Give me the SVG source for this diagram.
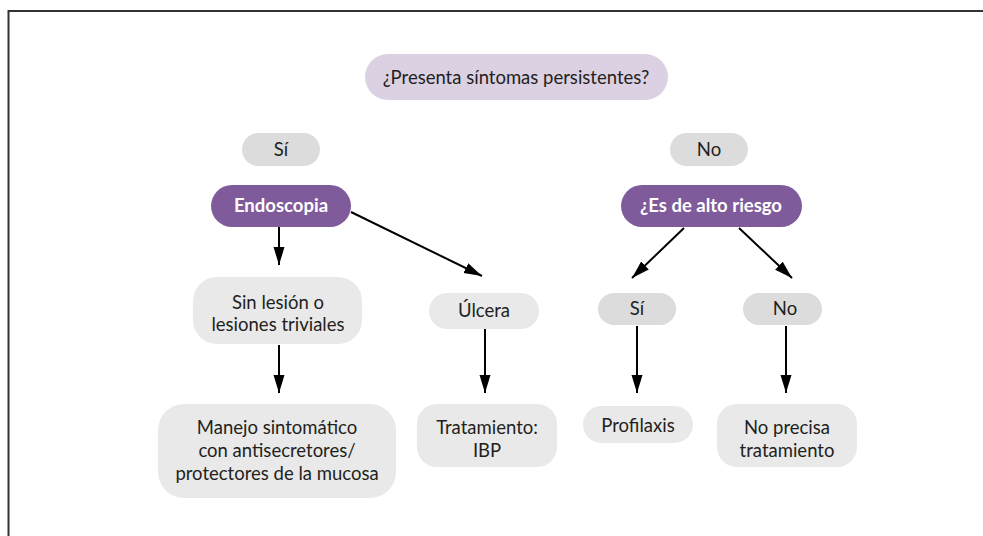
<svg xmlns="http://www.w3.org/2000/svg" width="983" height="536" viewBox="0 0 983 536">
<style>
text{font-family:Lato,"Open Sans","Liberation Sans",sans-serif;font-size:18.5px;fill:#231f20;text-anchor:middle}
.q{fill:#dcd0e3}
.g{fill:#e9e9e9}
.y{fill:#dcdcdc}
.p{fill:#7f5b9b}
.w{fill:#ffffff;font-weight:bold}
.c line{stroke:#000;stroke-width:2}
</style>
<defs>
<marker id="ah" markerUnits="userSpaceOnUse" markerWidth="19" markerHeight="12" refX="18" refY="6" orient="auto">
<path d="M0,0.5 L18,6 L0,11.5 z" fill="#000"/>
</marker>
</defs>
<rect width="983" height="536" fill="#fff"/>
<path d="M8.5,536 V11 H983" fill="none" stroke="#333" stroke-width="2"/>
<g id="q1"><rect class="q" x="365" y="54" width="303" height="46" rx="23"/><text x="516" y="84">¿Presenta síntomas persistentes?</text></g>
<g id="si1"><rect class="y" x="242" y="133" width="78" height="33" rx="16.5"/><text x="281" y="156">Sí</text></g>
<g id="no1"><rect class="y" x="670" y="133" width="78" height="33" rx="16.5"/><text x="709" y="156">No</text></g>
<g id="endo"><rect class="p" x="211" y="185" width="140" height="42" rx="21"/><text class="w" x="281" y="212">Endoscopia</text></g>
<g id="riesgo"><rect class="p" x="621" y="185" width="181" height="42" rx="21"/><text class="w" x="711" y="212">¿Es de alto riesgo</text></g>
<g id="sinlesion"><rect class="g" x="193" y="277" width="169" height="67" rx="24"/><text x="278" y="309">Sin lesión o</text><text x="278" y="331">lesiones triviales</text></g>
<g id="ulcera"><rect class="g" x="429" y="293" width="110" height="36" rx="18"/><text x="484" y="317">Úlcera</text></g>
<g id="si2"><rect class="y" x="598" y="293" width="78" height="32" rx="16"/><text x="637" y="315">Sí</text></g>
<g id="no2"><rect class="y" x="743" y="293" width="79" height="32" rx="16"/><text x="785" y="315">No</text></g>
<g id="manejo"><rect class="g" x="158" y="404" width="238" height="94" rx="26"/><text x="277" y="434">Manejo sintomático</text><text x="277" y="457">con antisecretores/</text><text x="277" y="480">protectores de la mucosa</text></g>
<g id="trat"><rect class="g" x="417" y="404" width="140" height="63" rx="20"/><text x="487" y="434">Tratamiento:</text><text x="487" y="457">IBP</text></g>
<g id="profi"><rect class="g" x="583" y="406" width="110" height="37" rx="18.5"/><text x="638" y="432">Profilaxis</text></g>
<g id="noprec"><rect class="g" x="717" y="404" width="140" height="63" rx="20"/><text x="787" y="434">No precisa</text><text x="787" y="457">tratamiento</text></g>
<g class="c" id="connectors">
<line x1="279" y1="227" x2="279" y2="265" marker-end="url(#ah)"/>
<line x1="351" y1="212" x2="482" y2="276" marker-end="url(#ah)"/>
<line x1="684" y1="228" x2="632" y2="278" marker-end="url(#ah)"/>
<line x1="739" y1="228" x2="792" y2="278" marker-end="url(#ah)"/>
<line x1="279" y1="345" x2="279" y2="393" marker-end="url(#ah)"/>
<line x1="485" y1="329" x2="485" y2="393" marker-end="url(#ah)"/>
<line x1="637" y1="326" x2="637" y2="393" marker-end="url(#ah)"/>
<line x1="786" y1="326" x2="786" y2="393" marker-end="url(#ah)"/>
</g>
</svg>
